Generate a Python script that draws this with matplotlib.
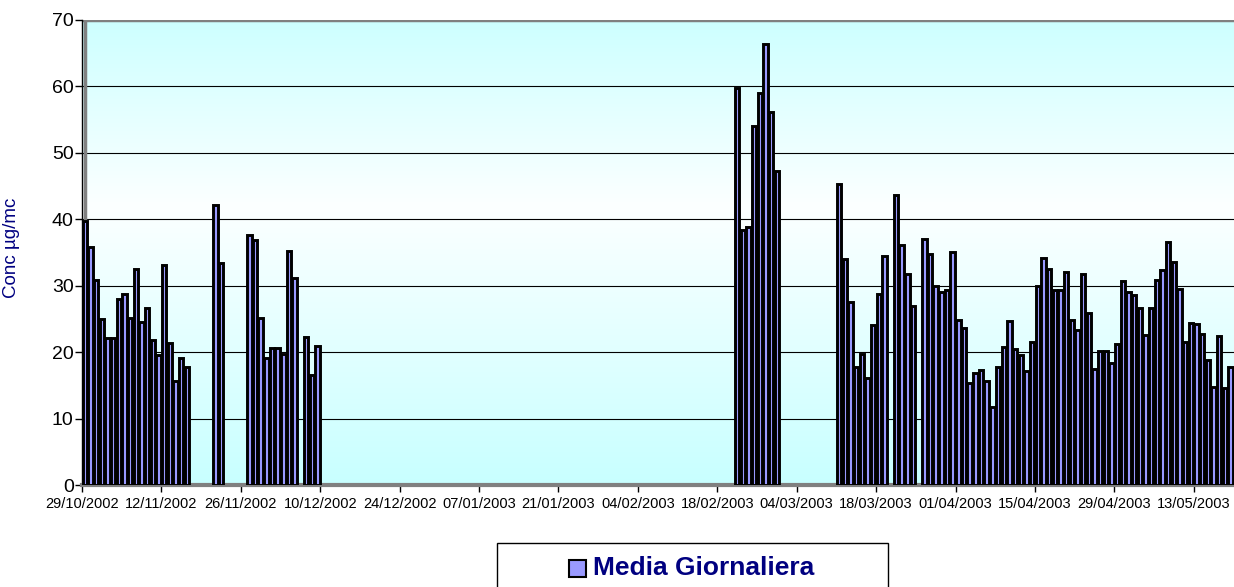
import numpy as np
import pandas as pd
import matplotlib
matplotlib.use("Agg")
import matplotlib.pyplot as plt
import matplotlib.dates as mdates
from matplotlib.patches import Rectangle

plt.rcParams['font.family'] = ['Liberation Sans', 'DejaVu Sans']

# daily means (ug/mc), one list per run of consecutive days with data
run_starts = ['2002-10-29', '2002-11-21', '2002-11-27', '2002-12-07',
              '2003-02-21', '2003-03-11', '2003-03-21', '2003-03-26']
run_values = [
    [39.7, 35.9, 30.8, 25.0, 22.2, 22.2, 28.0, 28.7, 25.1, 32.5,
     24.6, 26.7, 21.8, 19.6, 33.1, 21.4, 15.7, 19.1, 17.7],
    [42.2, 33.4],
    [37.7, 36.9, 25.1, 19.1, 20.6, 20.6, 19.7, 35.2, 31.2],
    [22.3, 16.6, 20.9],
    [59.7, 38.4, 38.8, 54.1, 59.0, 66.4, 56.1, 47.3],
    [45.3, 34.0, 27.5, 17.8, 19.7, 16.1, 24.1, 28.7, 34.5],
    [43.6, 36.1, 31.8, 27.0],
    [37.0, 34.8, 30.0, 29.0, 29.3, 35.1, 24.8, 23.6, 15.3, 16.9,
     17.3, 15.7, 11.8, 17.8, 20.8, 24.7, 20.5, 19.6, 17.1, 21.6,
     30.0, 34.1, 32.5, 29.4, 29.4, 32.0, 24.8, 23.3, 31.7, 25.9,
     17.4, 20.1, 20.1, 18.3, 21.3, 30.7, 29.1, 28.6, 26.6, 22.6,
     26.6, 30.9, 32.4, 36.6, 33.6, 29.5, 21.6, 24.4, 24.3, 22.8,
     18.8, 14.8, 22.5, 14.6, 17.8],
]
series_name = 'Media Giornaliera'
y_label = 'Conc µg/mc'

days = []
vals = []
for start, v in zip(run_starts, run_values):
    days.extend(pd.date_range(start, periods=len(v), freq='D'))
    vals.extend(v)
x = mdates.date2num(pd.DatetimeIndex(days).to_pydatetime())
vals = np.array(vals)

tick_dates = pd.date_range('2002-10-29', '2003-05-13', freq='14D')
tick_pos = mdates.date2num(tick_dates.to_pydatetime())
tick_labels = [d.strftime('%d/%m/%Y') for d in tick_dates]

W, H = 1234, 587
fig = plt.figure(figsize=(W / 100, H / 100), dpi=100)
ax = fig.add_axes([82 / W, 102 / H, (W - 82) / W, 465 / H])

x0 = tick_pos[0]
x1 = x0 + 203.1
ax.set_xlim(x0, x1)
ax.set_ylim(0, 70)

# wall: light cyan at top and bottom, near white in the upper middle
t = np.linspace(0, 1, 300)
top = np.array([205, 255, 255]) / 255
mid = np.array([252, 255, 255]) / 255
bot = np.array([200, 255, 255]) / 255
cols = np.where(t[:, None] < 0.4,
                top + (mid - top) * (t[:, None] / 0.4),
                mid + (bot - mid) * ((t[:, None] - 0.4) / 0.6))
ax.imshow(cols[:, None, :], extent=[x0, x1, 0, 70], aspect='auto',
          origin='upper', zorder=0)

for yv in range(10, 70, 10):
    ax.axhline(yv, color='black', lw=0.8, zorder=1)
ax.axhline(70, color='#808080', lw=2.5, zorder=1)
ax.plot([x0 + 0.6, x0 + 0.6], [0, 70], color='#808080', lw=2.5, zorder=1)

ax.bar(x + 0.5, vals, width=0.78, color='#9999FF', edgecolor='black',
       linewidth=2.1, zorder=3)

for s in ['top', 'right']:
    ax.spines[s].set_visible(False)
ax.spines['left'].set_color('black')
ax.spines['left'].set_linewidth(1)
ax.spines['bottom'].set_color('#808080')
ax.spines['bottom'].set_linewidth(3)

ax.set_yticks(range(0, 71, 10))
ax.set_xticks(tick_pos)
ax.set_xticklabels(tick_labels)
ax.tick_params(axis='y', labelsize=14, length=5, width=1, direction='out', pad=1)
ax.tick_params(axis='x', labelsize=10.5, length=5, width=1, direction='out',
               color='black', pad=4)

fig.text(12 / W, 1 - 248 / H, y_label, rotation=90, ha='center', va='center',
         color='#000080', fontsize=13.5)

# legend box at the bottom
fig.patches.append(Rectangle((497 / W, -0.05), 391 / W, 0.05 + 44 / H,
                             transform=fig.transFigure, facecolor='white',
                             edgecolor='black', lw=1))
fig.patches.append(Rectangle((569 / W, 1 - 577 / H), 17 / W, 17 / H,
                             transform=fig.transFigure, facecolor='#9999FF',
                             edgecolor='black', lw=1.5))
fig.text(593 / W, 1 - 568 / H, series_name, ha='left', va='center',
         color='#000080', fontsize=19, fontweight='bold')

fig.savefig('out.png', dpi=100)
